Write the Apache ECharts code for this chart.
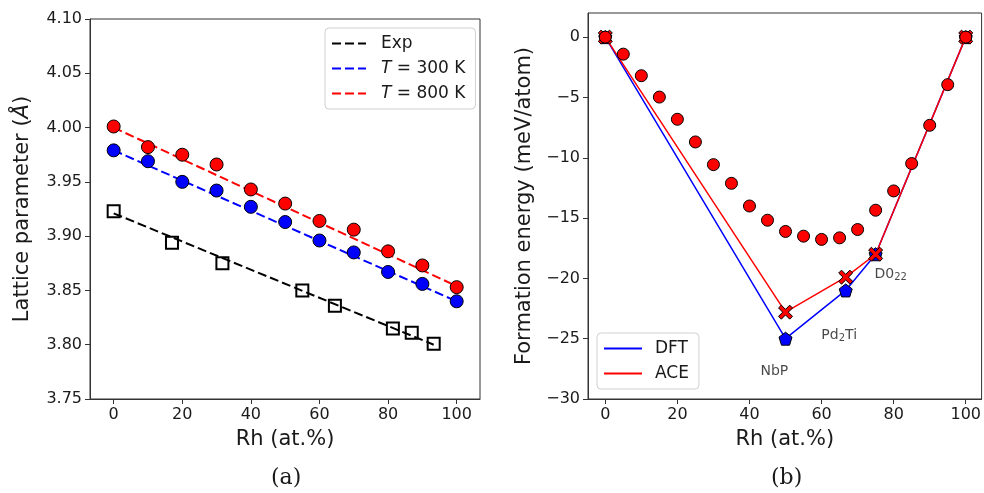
<!DOCTYPE html>
<html>
<head>
<meta charset="utf-8">
<script src="https://cdn.jsdelivr.net/npm/echarts@6/dist/echarts.min.js"></script>
<style>
  html, body { margin: 0; padding: 0; background: #fff; }
  #chart { width: 984px; height: 493px; }
</style>
</head>
<body>
<div id="chart"></div>
<script>
// ---- (a) lattice parameter vs Rh content ----
const rhCalc = [0, 10, 20, 30, 40, 50, 60, 70, 80, 90, 100];
const lattice300K = [3.979, 3.969, 3.950, 3.942, 3.927, 3.913, 3.896, 3.885, 3.867, 3.856, 3.840];
const lattice800K = [4.001, 3.982, 3.975, 3.966, 3.943, 3.930, 3.914, 3.906, 3.886, 3.873, 3.853];
const rhExp = [0, 17.0, 31.7, 55.0, 64.5, 81.4, 86.9, 93.3];
const latticeExp = [3.923, 3.894, 3.875, 3.850, 3.836, 3.815, 3.811, 3.801];
// linear fits (end points)
const fitRhCalc = [0, 100];
const fit300K = [3.979, 3.840];
const fit800K = [4.000, 3.854];
const fitRhExp = [0, 93.3];
const fitExp = [3.921, 3.800];
const ticksLattice = [3.75, 3.80, 3.85, 3.90, 3.95, 4.00, 4.05, 4.10];
const ticksRh = [0, 20, 40, 60, 80, 100];

// ---- (b) formation energy vs Rh content ----
const rhAce = [0, 5, 10, 15, 20, 25, 30, 35, 40, 45, 50, 55, 60, 65, 70, 75, 80, 85, 90, 95, 100];
const energyAce = [0, -1.41, -3.20, -4.97, -6.81, -8.69, -10.57, -12.12, -14.00, -15.18, -16.11,
                   -16.50, -16.77, -16.64, -15.95, -14.35, -12.75, -10.48, -7.31, -3.94, 0];
const rhHull = [0, 50, 66.7, 75, 100];
const hullDft = [0, -25.0, -21.0, -18.0, 0];
const hullAce = [0, -22.8, -19.9, -18.0, 0];
const phaseNames = ['NbP', 'Pd{s|2}Ti', 'D0{s|22}'];
const phaseLabelAt = [[46.9, -27.7], [64.9, -24.7], [79.2, -19.7]];
const ticksEnergy = [-30, -25, -20, -15, -10, -5, 0];

const pairs = (xs, ys) => xs.map((x, i) => [x, ys[i]]);
const minus = v => String(v).replace('-', '\u2212');

const AX = '#333';
const TXT = '#1a1a1a';
const FONT = 'DejaVu Sans';
const DASH = [9, 4];
const pentagon = 'path://M0,-1L0.951,-0.309L0.588,0.809L-0.588,0.809L-0.951,-0.309Z';
const xMark = 'path://M-1,-0.6L-0.6,-1L0,-0.4L0.6,-1L1,-0.6L0.4,0L1,0.6L0.6,1L0,0.4L-0.6,1L-1,0.6L-0.4,0Z';

function xAxisCfg(gridIndex, min, max) {
  return {
    type: 'value', gridIndex, min, max,
    name: 'Rh (at.%)', nameLocation: 'middle', nameGap: 30,
    nameTextStyle: { fontFamily: FONT, fontSize: 21, color: TXT },
    axisLine: { show: true, onZero: false, lineStyle: { color: AX, width: 1 } },
    axisTick: { show: true, length: 5, customValues: ticksRh, lineStyle: { color: AX } },
    axisLabel: { customValues: ticksRh, fontFamily: FONT, fontSize: 16, color: TXT, margin: 8 },
    splitLine: { show: false }
  };
}

const option = {
  animation: false,
  backgroundColor: '#fff',
  grid: [
    { left: 90, top: 19, width: 390, height: 380, show: true, borderColor: AX, borderWidth: 1, backgroundColor: 'transparent' },
    { left: 588, top: 13, width: 394, height: 386, show: true, borderColor: AX, borderWidth: 1, backgroundColor: 'transparent' }
  ],
  xAxis: [
    xAxisCfg(0, -6.9, 106.8),
    xAxisCfg(1, -4.8, 104.4)
  ],
  yAxis: [
    {
      type: 'value', gridIndex: 0, min: 3.75, max: 4.10,
      name: 'Lattice parameter ({i|Å})', nameLocation: 'middle', nameGap: 57, nameRotate: 90,
      nameTextStyle: { fontFamily: FONT, fontSize: 21, color: TXT,
        rich: { i: { fontFamily: FONT, fontStyle: 'italic', fontSize: 21, color: TXT } } },
      axisLine: { show: true, onZero: false, lineStyle: { color: AX, width: 1 } },
      axisTick: { show: true, length: 5, customValues: ticksLattice, lineStyle: { color: AX } },
      axisLabel: { customValues: ticksLattice, formatter: v => v.toFixed(2),
        fontFamily: FONT, fontSize: 16, color: TXT, margin: 8 },
      splitLine: { show: false }
    },
    {
      type: 'value', gridIndex: 1, min: -30, max: 2,
      name: 'Formation energy (meV/atom)', nameLocation: 'middle', nameGap: 53, nameRotate: 90,
      nameTextStyle: { fontFamily: FONT, fontSize: 21, color: TXT },
      axisLine: { show: true, onZero: false, lineStyle: { color: AX, width: 1 } },
      axisTick: { show: true, length: 5, customValues: ticksEnergy, lineStyle: { color: AX } },
      axisLabel: { customValues: ticksEnergy, formatter: minus,
        fontFamily: FONT, fontSize: 16, color: TXT, margin: 8 },
      splitLine: { show: false }
    }
  ],
  legend: [
    {
      left: 325, top: 28, width: 146, orient: 'vertical', itemGap: 8,
      itemWidth: 34, itemHeight: 14,
      padding: [7, 10, 7, 6],
      backgroundColor: '#fff', borderColor: '#d0d0d0', borderWidth: 1, borderRadius: 4,
      itemStyle: { opacity: 0 },
      data: ['Exp', 'T300', 'T800'],
      formatter: n => n === 'Exp' ? 'Exp' : (n === 'T300' ? '{i|T} = 300 K' : '{i|T} = 800 K'),
      textStyle: { fontFamily: FONT, fontSize: 17, color: TXT, padding: [0, 0, 0, 10],
        rich: { i: { fontFamily: FONT, fontStyle: 'italic', fontSize: 17, color: TXT } } }
    },
    {
      left: 597, top: 333, orient: 'vertical', itemGap: 8,
      itemWidth: 38, itemHeight: 14,
      padding: [7, 10, 7, 6],
      backgroundColor: '#fff', borderColor: '#d0d0d0', borderWidth: 1, borderRadius: 4,
      itemStyle: { opacity: 0 },
      data: ['DFT', 'ACE'],
      textStyle: { fontFamily: FONT, fontSize: 17, color: TXT, padding: [0, 0, 0, 8] }
    }
  ],
  graphic: [
    { type: 'text', left: 285 - 14, top: 467,
      style: { text: '(a)', fontFamily: 'DejaVu Serif', fontSize: 22, fill: TXT } },
    { type: 'text', left: 785 - 14, top: 467,
      style: { text: '(b)', fontFamily: 'DejaVu Serif', fontSize: 22, fill: TXT } }
  ],
  series: [
    // (a) fit lines
    { name: 'Exp', type: 'line', xAxisIndex: 0, yAxisIndex: 0, data: pairs(fitRhExp, fitExp),
      symbol: 'none', lineStyle: { color: '#000', width: 2, type: DASH }, itemStyle: { color: '#000' }, z: 2 },
    { name: 'T300', type: 'line', xAxisIndex: 0, yAxisIndex: 0, data: pairs(fitRhCalc, fit300K),
      symbol: 'none', lineStyle: { color: '#0000ff', width: 2, type: DASH }, itemStyle: { color: '#0000ff' }, z: 2 },
    { name: 'T800', type: 'line', xAxisIndex: 0, yAxisIndex: 0, data: pairs(fitRhCalc, fit800K),
      symbol: 'none', lineStyle: { color: '#ff0000', width: 2, type: DASH }, itemStyle: { color: '#ff0000' }, z: 2 },
    // (a) points
    { name: 'expPts', type: 'scatter', xAxisIndex: 0, yAxisIndex: 0, data: pairs(rhExp, latticeExp),
      symbol: 'rect', symbolSize: 12,
      itemStyle: { color: 'rgba(0,0,0,0)', borderColor: '#000', borderWidth: 2, opacity: 1 }, z: 3 },
    { name: 'pts300', type: 'scatter', xAxisIndex: 0, yAxisIndex: 0, data: pairs(rhCalc, lattice300K),
      symbol: 'circle', symbolSize: 13,
      itemStyle: { color: '#0000ff', borderColor: '#000', borderWidth: 1, opacity: 1 }, z: 3 },
    { name: 'pts800', type: 'scatter', xAxisIndex: 0, yAxisIndex: 0, data: pairs(rhCalc, lattice800K),
      symbol: 'circle', symbolSize: 13,
      itemStyle: { color: '#ff0000', borderColor: '#000', borderWidth: 1, opacity: 1 }, z: 3 },

    // (b) convex hulls
    { name: 'DFT', type: 'line', xAxisIndex: 1, yAxisIndex: 1, data: pairs(rhHull, hullDft),
      symbol: pentagon, symbolSize: 13, showAllSymbol: true,
      lineStyle: { color: '#0000ff', width: 1.5 },
      itemStyle: { color: '#0000ff', borderColor: '#000', borderWidth: 1 }, z: 3 },
    { name: 'ACE', type: 'line', xAxisIndex: 1, yAxisIndex: 1, data: pairs(rhHull, hullAce),
      symbol: xMark, symbolSize: 14, showAllSymbol: true,
      lineStyle: { color: '#ff0000', width: 1.5 },
      itemStyle: { color: '#ff0000', borderColor: '#000', borderWidth: 1 }, z: 4 },
    // (b) ACE energies on the composition grid
    { name: 'acePts', type: 'scatter', xAxisIndex: 1, yAxisIndex: 1, data: pairs(rhAce, energyAce),
      symbol: 'circle', symbolSize: 12,
      itemStyle: { color: '#ff0000', borderColor: '#000', borderWidth: 1, opacity: 1 }, z: 5 },
    // (b) phase labels
    { name: 'phases', type: 'scatter', xAxisIndex: 1, yAxisIndex: 1, symbolSize: 0,
      data: phaseNames.map((n, i) => ({ value: phaseLabelAt[i], name: n })),
      label: { show: true, position: 'inside', formatter: p => p.name,
        fontFamily: FONT, fontSize: 14, color: TXT, lineHeight: 18,
        rich: { s: { fontFamily: FONT, fontSize: 10, color: TXT, lineHeight: 10, padding: [6, 0, 0, 0] } } },
      silent: true, z: 6 }
  ]
};

const chart = echarts.init(document.getElementById('chart'), null, { renderer: 'canvas' });
chart.setOption(option);
</script>
</body>
</html>
